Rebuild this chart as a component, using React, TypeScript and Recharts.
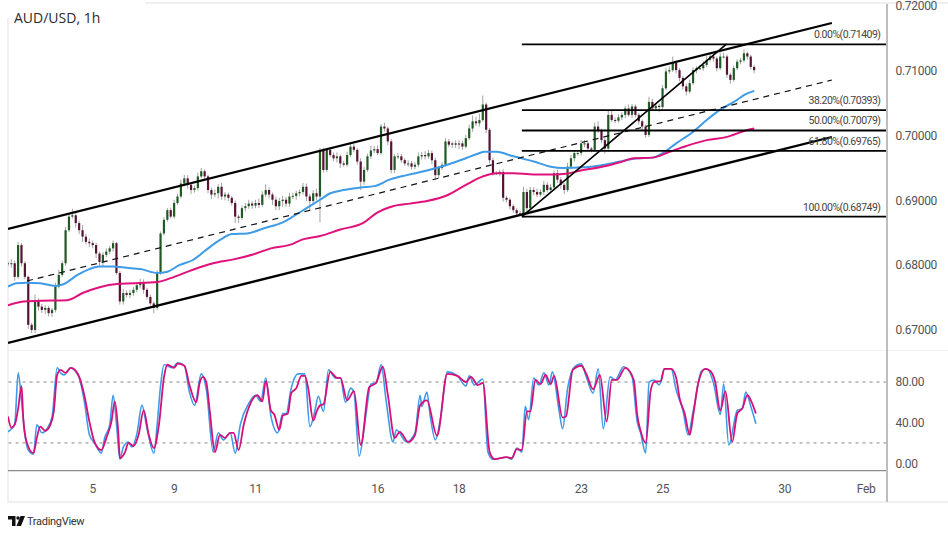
import React from 'react';
import { ComposedChart, Bar, Line, XAxis, YAxis, ReferenceLine } from 'recharts';

const WIDTH = 948;
const AXIS_W = 61.5;
const HOUR_DOMAIN = [0, 518];
const BAR_STEP = 2;

const timeTicks = [50, 98, 146, 218, 266, 338, 386, 458, 506];
const timeLabels = ['5', '9', '11', '16', '18', '23', '25', '30', 'Feb'];
const priceTicks = [0.72, 0.71, 0.7, 0.69, 0.68, 0.67];
const stochTicks = [80, 40, 0];

const closes = [
  0.6803, 0.6803, 0.6782, 0.6831, 0.6803, 0.6782, 0.6708, 0.67, 0.6746, 0.6736,
  0.6731, 0.6734, 0.6726, 0.6731, 0.6767, 0.6785, 0.6803, 0.6854, 0.6875, 0.6877,
  0.6865, 0.6854, 0.6844, 0.6836, 0.6834, 0.6831, 0.6818, 0.6805, 0.6816, 0.6821,
  0.6826, 0.6834, 0.6788, 0.6744, 0.6757, 0.6754, 0.6757, 0.6762, 0.6769, 0.6772,
  0.6762, 0.6751, 0.6741, 0.6734, 0.6788, 0.6849, 0.687, 0.6885, 0.6875, 0.6896,
  0.6906, 0.6926, 0.6934, 0.6924, 0.6916, 0.6919, 0.6937, 0.6945, 0.6937, 0.6916,
  0.6909, 0.6911, 0.6921, 0.6906, 0.6909, 0.6904, 0.6896, 0.6875, 0.6873, 0.6888,
  0.6891, 0.6895, 0.6892, 0.6896, 0.6893, 0.6909, 0.6916, 0.6909, 0.6901, 0.6891,
  0.6899, 0.6901, 0.6895, 0.6906, 0.6907, 0.6911, 0.6913, 0.6921, 0.6906, 0.6899,
  0.6911, 0.6906, 0.6978, 0.6947, 0.6978, 0.697, 0.6965, 0.6968, 0.6957, 0.6955,
  0.697, 0.6983, 0.6978, 0.696, 0.6929, 0.6947, 0.6968, 0.6977, 0.6979, 0.6973,
  0.7014, 0.7011, 0.6991, 0.6947, 0.6968, 0.6968, 0.6962, 0.6957, 0.6957, 0.6952,
  0.6955, 0.6968, 0.697, 0.6968, 0.6973, 0.6962, 0.6939, 0.695, 0.6955, 0.6991,
  0.6986, 0.6988, 0.6986, 0.6988, 0.6983, 0.6996, 0.7011, 0.7022, 0.7019, 0.7024,
  0.7048, 0.7009, 0.6962, 0.6942, 0.6942, 0.6944, 0.6904, 0.6901, 0.6891, 0.6885,
  0.688, 0.6879, 0.6913, 0.6888, 0.6916, 0.6913, 0.6909, 0.6913, 0.6924, 0.6916,
  0.692, 0.6942, 0.6932, 0.6924, 0.6916, 0.6952, 0.6965, 0.6973, 0.6973, 0.6988,
  0.6988, 0.698, 0.6978, 0.7014, 0.7008, 0.6993, 0.698, 0.7032, 0.7024, 0.7023,
  0.7028, 0.7032, 0.7042, 0.7032, 0.7045, 0.7032, 0.7022, 0.7014, 0.7001, 0.7052,
  0.7042, 0.7046, 0.7044, 0.7073, 0.7099, 0.7101, 0.7112, 0.7101, 0.7089, 0.7076,
  0.7068, 0.7081, 0.7101, 0.7104, 0.7104, 0.7109, 0.7117, 0.7122, 0.7119, 0.7104,
  0.7122, 0.7122, 0.7094, 0.7086, 0.7104, 0.7114, 0.7116, 0.7127, 0.7122, 0.7106,
  0.7101,
];
// wick lengths in pips
const upperWicks = [
  3, 6, 4, 5, 3, 3, 2, 3, 9, 3, 4, 4, 3, 3, 6, 8, 4, 5, 5, 10,
  6, 4, 8, 4, 5, 4, 4, 3, 4, 5, 4, 4, 2, 3, 6, 4, 5, 4, 5, 7,
  6, 3, 4, 3, 4, 3, 4, 3, 4, 5, 4, 6, 5, 5, 4, 4, 6, 5, 3, 3,
  4, 6, 4, 6, 4, 3, 3, 4, 3, 4, 5, 6, 4, 5, 7, 5, 9, 4, 3, 5,
  5, 6, 4, 6, 5, 4, 4, 6, 5, 4, 5, 7, 3, 3, 3, 4, 4, 6, 3, 4,
  5, 6, 4, 3, 5, 5, 4, 7, 5, 6, 4, 6, 3, 4, 3, 5, 4, 3, 5, 4,
  4, 6, 5, 6, 5, 4, 4, 3, 4, 5, 4, 3, 5, 5, 4, 5, 6, 9, 7, 10,
  14, 3, 3, 4, 3, 3, 4, 3, 3, 3, 3, 4, 8, 5, 5, 4, 5, 4, 6, 4,
  5, 4, 5, 4, 3, 6, 5, 4, 5, 5, 5, 3, 3, 6, 8, 3, 3, 7, 7, 4,
  5, 4, 4, 6, 4, 3, 3, 3, 3, 8, 5, 3, 3, 5, 5, 6, 10, 4, 3, 3,
  4, 5, 4, 3, 5, 6, 6, 6, 4, 3, 6, 6, 3, 3, 4, 4, 4, 6, 3, 3, 3,
];
const lowerWicks = [
  5, 7, 6, 3, 5, 4, 6, 5, 5, 6, 5, 6, 5, 6, 4, 3, 3, 4, 3, 3,
  7, 6, 8, 4, 6, 5, 7, 6, 6, 4, 4, 5, 3, 5, 5, 4, 5, 4, 4, 5,
  6, 4, 3, 8, 3, 3, 3, 3, 3, 3, 3, 3, 4, 6, 6, 4, 4, 3, 6, 5,
  7, 4, 8, 5, 6, 5, 4, 10, 8, 3, 5, 4, 5, 4, 5, 3, 4, 6, 8, 6,
  6, 9, 5, 5, 4, 6, 5, 4, 7, 14, 5, 6, 40, 4, 3, 3, 4, 6, 7, 3,
  3, 3, 4, 5, 13, 5, 3, 4, 4, 3, 3, 5, 6, 5, 5, 4, 4, 4, 5, 4,
  4, 4, 5, 5, 4, 6, 7, 5, 3, 3, 4, 5, 5, 7, 5, 3, 3, 5, 4, 5,
  3, 5, 5, 4, 3, 5, 6, 4, 5, 4, 4, 3, 6, 6, 3, 5, 4, 3, 5, 4,
  5, 4, 5, 6, 6, 3, 3, 5, 4, 4, 6, 4, 4, 3, 4, 5, 8, 5, 3, 4,
  3, 4, 5, 3, 5, 4, 5, 6, 4, 3, 3, 4, 8, 3, 3, 4, 3, 5, 5, 5,
  6, 3, 3, 5, 3, 4, 3, 3, 5, 5, 3, 3, 5, 6, 3, 3, 4, 3, 5, 4, 5,
];

const ma100Hours = [0, 5, 11, 19, 28, 33, 41, 48, 54, 62, 70, 78, 88, 94, 101, 109, 117, 125, 132, 141, 151, 162, 168, 176, 184, 190, 198, 208, 216, 225, 235, 247, 259, 270, 277, 281, 288, 298, 310, 320, 327, 339, 349, 361, 371, 380, 386, 394, 404, 412, 420, 428, 435, 440];
const ma100Values = [0.6767, 0.6772, 0.6773, 0.6772, 0.6768, 0.6771, 0.6785, 0.6794, 0.6798, 0.6798, 0.6796, 0.6794, 0.6788, 0.679, 0.68, 0.6808, 0.6824, 0.6839, 0.6848, 0.6849, 0.6857, 0.6866, 0.6875, 0.6888, 0.6901, 0.6911, 0.6916, 0.692, 0.6922, 0.6932, 0.6939, 0.6946, 0.6955, 0.6965, 0.6972, 0.6975, 0.6975, 0.6968, 0.696, 0.6952, 0.695, 0.6951, 0.6954, 0.696, 0.6965, 0.6966, 0.6973, 0.6988, 0.7006, 0.7024, 0.704, 0.7052, 0.7064, 0.7069];
const ma200Hours = [0, 9, 19, 35, 44, 54, 64, 74, 88, 98, 109, 121, 133, 145, 155, 168, 172, 184, 196, 210, 217, 227, 237, 247, 259, 270, 280, 288, 298, 310, 322, 329, 339, 349, 361, 369, 380, 390, 400, 412, 424, 435, 440];
const ma200Values = [0.6738, 0.6744, 0.6745, 0.6746, 0.6757, 0.6766, 0.6771, 0.6772, 0.6774, 0.6782, 0.6793, 0.6803, 0.6809, 0.6817, 0.6826, 0.6833, 0.6838, 0.6845, 0.6855, 0.6866, 0.688, 0.6891, 0.6895, 0.6899, 0.6908, 0.6924, 0.6937, 0.6942, 0.6942, 0.694, 0.694, 0.6941, 0.6947, 0.6951, 0.6959, 0.6965, 0.6966, 0.6975, 0.6984, 0.6993, 0.6998, 0.7008, 0.7011];

const channelHours = [0, 485.8];
const channelUpper = [0.68559, 0.71738];
const channelLower = [0.66799, 0.69978];
const medianHours = [11.2, 485.8];
const medianPrices = [0.67756, 0.70858];
const trendHours = [303, 423.8];
const trendPrices = [0.68749, 0.71414];

const fibStart = 303;
const fibPrices = [0.71409, 0.70393, 0.70079, 0.69765, 0.68749];
const fibLabels = ['0.00%(0.71409)', '38.20%(0.70393)', '50.00%(0.70079)', '61.80%(0.69765)', '100.00%(0.68749)'];

const stochDHours = [0, 2, 4, 6, 8, 9, 11, 15, 17, 19, 22, 25, 27, 29, 31, 34, 37, 40, 42, 45, 48, 51, 55, 58, 61, 63, 65, 66, 69, 71, 74, 77, 80, 83, 86, 89, 92, 94, 98, 100, 104, 107, 111, 113, 115, 117, 119, 122, 125, 128, 131, 133, 136, 139, 143, 147, 150, 152, 155, 157, 160, 162, 165, 167, 170, 173, 175, 177, 180, 182, 184, 186, 190, 194, 196, 200, 204, 208, 213, 217, 221, 224, 228, 231, 236, 240, 243, 247, 253, 259, 265, 270, 273, 277, 280, 284, 287, 294, 297, 300, 303, 306, 308, 311, 314, 317, 320, 322, 327, 329, 333, 338, 341, 345, 349, 353, 356, 359, 364, 369, 371, 373, 376, 379, 381, 385, 387, 391, 394, 396, 399, 402, 404, 407, 411, 414, 417, 420, 423, 427, 430, 433, 436, 438, 441];
const stochDValues = [46, 35, 38, 54, 76, 44, 21, 10, 25, 36, 32, 38, 51, 87, 92, 89, 94, 91, 85, 67, 41, 21, 13, 25, 41, 61, 31, 5, 11, 20, 17, 28, 52, 28, 15, 38, 85, 97, 94, 98, 96, 77, 60, 79, 85, 79, 51, 11, 28, 25, 30, 30, 13, 38, 59, 67, 61, 81, 52, 48, 33, 47, 49, 69, 74, 86, 86, 74, 42, 51, 57, 58, 90, 84, 84, 62, 71, 18, 75, 79, 95, 67, 25, 31, 21, 28, 57, 62, 27, 88, 86, 80, 85, 77, 79, 11, 4, 6, 5, 14, 13, 51, 51, 82, 78, 87, 78, 86, 45, 46, 92, 96, 88, 73, 87, 41, 82, 82, 94, 82, 48, 32, 20, 72, 80, 81, 93, 93, 84, 64, 49, 28, 47, 79, 93, 91, 80, 52, 71, 21, 49, 54, 67, 62, 49];
const stochKHours = [0, 2, 4, 6, 8, 10, 12, 15, 17, 20, 23, 26, 29, 31, 33, 37, 40, 42, 45, 48, 51, 55, 57, 60, 62, 64, 66, 68, 71, 73, 76, 79, 82, 86, 88, 90, 92, 97, 100, 104, 107, 110, 114, 117, 121, 124, 127, 131, 134, 137, 142, 146, 149, 152, 155, 159, 162, 164, 167, 171, 175, 178, 181, 183, 186, 189, 193, 196, 199, 202, 204, 207, 211, 214, 217, 220, 223, 227, 229, 235, 240, 243, 244, 247, 249, 252, 255, 259, 265, 270, 272, 275, 280, 283, 286, 294, 297, 300, 303, 305, 307, 310, 313, 316, 319, 321, 325, 327, 330, 334, 338, 341, 345, 348, 351, 355, 358, 363, 368, 371, 373, 376, 378, 381, 384, 387, 391, 394, 398, 401, 404, 409, 412, 416, 420, 422, 425, 430, 433, 435, 438, 441];
const stochKValues = [31, 34, 39, 89, 61, 28, 13, 9, 38, 30, 34, 46, 94, 89, 87, 94, 90, 84, 61, 28, 20, 10, 25, 38, 67, 38, 4, 16, 21, 16, 29, 57, 34, 10, 39, 77, 97, 94, 99, 96, 70, 57, 88, 72, 11, 30, 23, 30, 10, 38, 59, 67, 61, 84, 47, 30, 49, 49, 74, 88, 88, 36, 52, 66, 51, 92, 84, 84, 60, 74, 70, 7, 47, 78, 79, 97, 61, 21, 33, 21, 30, 67, 56, 70, 46, 23, 44, 90, 86, 76, 86, 77, 83, 11, 4, 6, 4, 15, 11, 56, 43, 84, 77, 89, 77, 90, 51, 34, 74, 95, 98, 85, 69, 93, 34, 85, 82, 95, 85, 41, 30, 10, 80, 82, 77, 93, 93, 72, 52, 28, 51, 91, 93, 79, 48, 78, 18, 52, 54, 70, 56, 39];

const toPoints = (xs: number[], ys: number[]) => xs.map((h, i) => ({ h, v: ys[i] }));
const seg = (xs: number[], ys: number[]): any => [{ x: xs[0], y: ys[0] }, { x: xs[1], y: ys[1] }];

const candles = closes.map((close, i) => {
  const open = i === 0 ? close : closes[i - 1];
  const high = Math.max(open, close) + upperWicks[i] / 10000;
  const low = Math.min(open, close) - lowerWicks[i] / 10000;
  return { h: i * BAR_STEP, open, close, high, low, range: [low, high] };
});

const Candle = (props: any) => {
  const { x, y, width, height, payload } = props;
  const { open, close, high, low } = payload;
  const perUnit = height / (high - low);
  const top = y + (high - Math.max(open, close)) * perUnit;
  const bodyH = Math.max(Math.abs(close - open) * perUnit, 1);
  const cx = x + width / 2;
  return (
    <g>
      <line x1={cx} x2={cx} y1={y} y2={y + height} stroke="#a3a3a3" strokeWidth={1} />
      <rect x={cx - 1.1} y={top} width={2.2} height={bodyH} fill={close >= open ? '#1f5a22' : '#561334'} />
    </g>
  );
};

const tickStyle = { fill: '#555', fontSize: 12, fontFamily: 'Roboto', letterSpacing: -0.3 };

const App = () => {
  return (
    <div style={{ position: 'absolute', left: 0, top: 0, width: WIDTH, height: 535, background: '#fff', overflow: 'hidden' }}>
      <div style={{ position: 'absolute', left: 145, top: 2, width: 803, height: 2, background: '#f0f0f0' }} />
      <div style={{ position: 'absolute', left: 7, top: 18, width: 2, height: 485, background: '#f0f0f0' }} />
      <div style={{ position: 'absolute', left: 8, top: 350, width: 940, height: 1, background: '#f0f0f0' }} />
      <div style={{ position: 'absolute', left: 8, top: 501, width: 940, height: 2, background: '#f0f0f0' }} />

      <div style={{ position: 'absolute', left: 8, top: 0 }}>
        <ComposedChart width={WIDTH - 8} height={350} data={candles} margin={{ top: 4, right: 0, bottom: 0, left: 0 }}>
          <XAxis dataKey="h" type="number" domain={HOUR_DOMAIN} hide allowDataOverflow />
          <YAxis
            orientation="right"
            width={AXIS_W}
            domain={[0.66691, 0.72031]}
            ticks={priceTicks}
            interval={0}
            allowDataOverflow
            axisLine={false}
            tickLine={false}
            tickMargin={3}
            tick={tickStyle}
            tickFormatter={(v: number) => v.toFixed(5)}
          />
          <Bar dataKey="range" barSize={2} shape={Candle} isAnimationActive={false} />
          <Line data={toPoints(ma100Hours, ma100Values)} dataKey="v" type="monotone" stroke="#3f9be6" strokeWidth={2} dot={false} isAnimationActive={false} />
          <Line data={toPoints(ma200Hours, ma200Values)} dataKey="v" type="monotone" stroke="#e0117a" strokeWidth={2} dot={false} isAnimationActive={false} />
          <ReferenceLine segment={seg(channelHours, channelUpper)} stroke="#000" strokeWidth={2.2} />
          <ReferenceLine segment={seg(channelHours, channelLower)} stroke="#000" strokeWidth={2.2} />
          <ReferenceLine segment={seg(medianHours, medianPrices)} stroke="#111" strokeWidth={1.2} strokeDasharray="6 5" />
          <ReferenceLine segment={seg(trendHours, trendPrices)} stroke="#000" strokeWidth={1.6} />
          {fibPrices.map((p, i) => (
            <ReferenceLine
              key={p}
              segment={[{ x: fibStart, y: p }, { x: HOUR_DOMAIN[1], y: p }]}
              stroke="#000"
              strokeWidth={1.8}
              label={{ value: fibLabels[i], position: 'insideBottomRight', offset: 6, fontSize: 10.5, letterSpacing: -0.5, fontFamily: 'Roboto', fill: '#444' }}
            />
          ))}
        </ComposedChart>
      </div>

      <div style={{ position: 'absolute', left: 8, top: 350 }}>
        <ComposedChart width={WIDTH - 8} height={152} margin={{ top: 0, right: 0, bottom: 0, left: 0 }}>
          <XAxis
            dataKey="h"
            type="number"
            domain={HOUR_DOMAIN}
            ticks={timeTicks}
            interval={0}
            height={31.3}
            axisLine={{ stroke: '#8a8a8a', strokeWidth: 1.2 }}
            tickLine={false}
            tickMargin={8}
            tick={tickStyle}
            tickFormatter={(v: number) => timeLabels[timeTicks.indexOf(v)]}
          />
          <YAxis
            orientation="right"
            width={AXIS_W}
            domain={[-7.3, 111.5]}
            ticks={stochTicks}
            interval={0}
            allowDataOverflow
            axisLine={false}
            tickLine={false}
            tickMargin={3}
            tick={tickStyle}
            tickFormatter={(v: number) => v.toFixed(2)}
          />
          <ReferenceLine y={80} stroke="#888" strokeWidth={1} strokeDasharray="3 4" />
          <ReferenceLine y={20} stroke="#888" strokeWidth={1} strokeDasharray="3 4" />
          <Line data={toPoints(stochKHours, stochKValues)} dataKey="v" type="monotone" stroke="#3f9be6" strokeWidth={1.6} dot={false} isAnimationActive={false} />
          <Line data={toPoints(stochDHours, stochDValues)} dataKey="v" type="monotone" stroke="#d6107a" strokeWidth={1.8} dot={false} isAnimationActive={false} />
        </ComposedChart>
      </div>

      <div style={{ position: 'absolute', left: 886, top: 4, width: 2, height: 498, background: '#bdbdbd' }} />

      <div style={{ position: 'absolute', left: 14, top: 8, fontFamily: 'Open Sans', fontSize: 14, color: '#2b2b2b', lineHeight: '20px' }}>AUD/USD, 1h</div>

      <svg style={{ position: 'absolute', left: 8, top: 515 }} width={18} height={12} viewBox="0 0 18 12">
        <path d="M0 1h7.5v10H4V4.5H0z" fill="#111" />
        <circle cx="10" cy="3" r="1.7" fill="#111" />
        <path d="M12.5 1H17l-4 10H8.5z" fill="#111" />
      </svg>
      <div style={{ position: 'absolute', left: 27, top: 514, fontFamily: 'Roboto', fontSize: 11, letterSpacing: -0.3, color: '#333', lineHeight: '16px' }}>TradingView</div>
    </div>
  );
};

export default App;
